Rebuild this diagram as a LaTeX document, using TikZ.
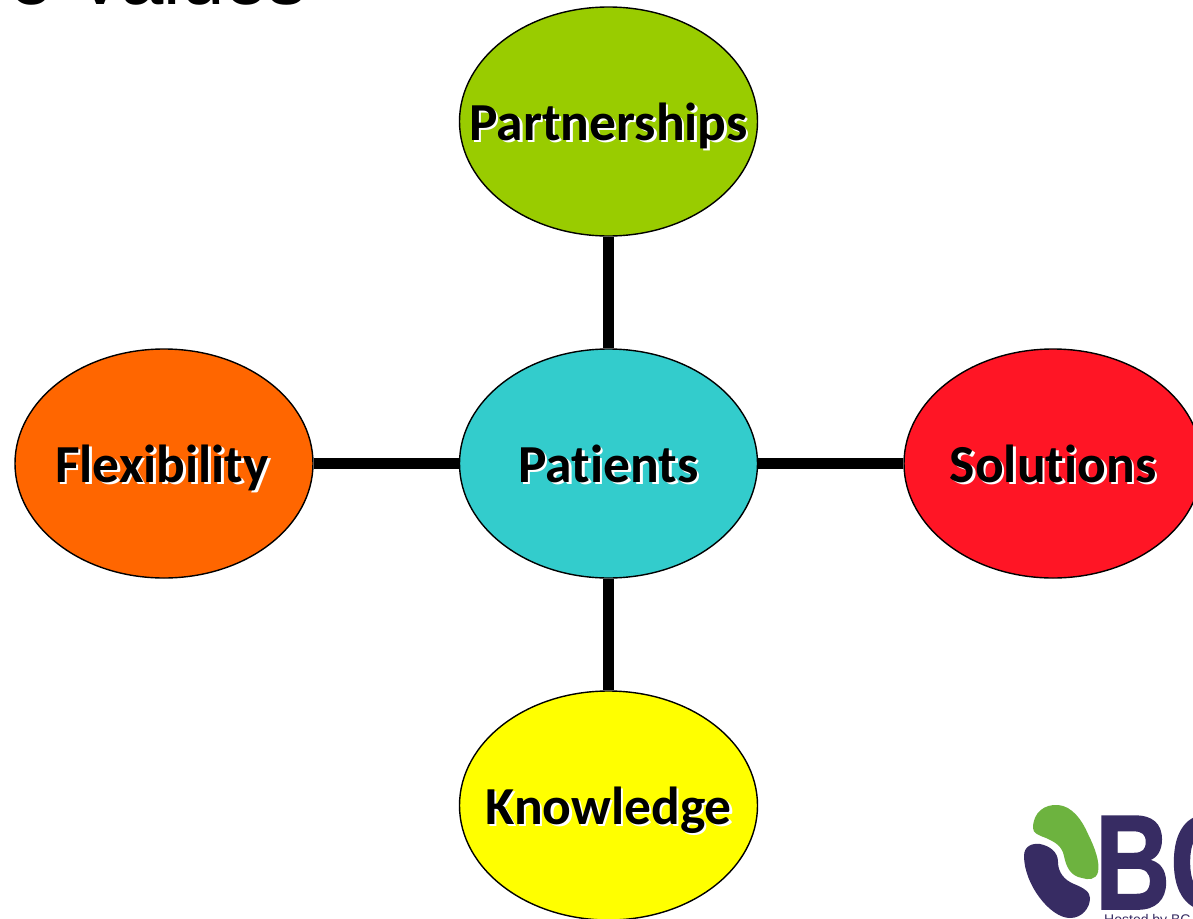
\documentclass[tikz,border=0pt]{standalone}
\usepackage{fontspec}
\setmainfont[RawFeature={-liga;-clig}]{Carlito}
\newfontfamily\titlefont{Liberation Sans}
\newfontfamily\logofont[UprightFont={* Bold},FakeBold=1.2]{Liberation Sans}
\usetikzlibrary{shapes.geometric}
\definecolor{cgreen}{HTML}{99CC00}
\definecolor{cteal}{HTML}{33CCCC}
\definecolor{corange}{HTML}{FF6600}
\definecolor{cred}{HTML}{FF1525}
\definecolor{cyell}{HTML}{FFFF00}
\definecolor{lgreen}{HTML}{6DB33F}
\definecolor{lpurple}{HTML}{372C63}
\newcommand\shtxt[1]{\leavevmode\rlap{\hspace{2.5pt}\raisebox{-2.5pt}{\color{white}#1}}#1}
\tikzset{
  bubble/.style={ellipse,draw=black,line width=1.4pt,minimum width=298pt,minimum height=229pt,inner sep=0pt},
  spoke/.style={line width=11pt,black},
  bubbletext/.style={anchor=base,inner sep=0pt,font=\fontsize{53.5}{53.5}\selectfont\bfseries}
}
\begin{document}
\begin{tikzpicture}[x=1pt,y=-1pt]
\useasboundingbox (0,0) rectangle (1193,918);
\clip (0,0) rectangle (1193,918);
\fill[white] (0,0) rectangle (1193,918);
\node[anchor=base west,inner sep=0pt,font=\titlefont\fontsize{78}{78}\selectfont] (title) at (9,5) {e Values};
\node[bubble,fill=cteal] (pat) at (608.5,463.5) {};
\node[bubble,fill=cgreen] (par) at (608.5,121.5) {};
\node[bubble,fill=corange] (fle) at (164,463.5) {};
\node[bubble,fill=cred] (sol) at (1053,463.5) {};
\node[bubble,fill=cyell] (kno) at (608.5,805.5) {};
\draw[spoke] (par) -- (pat);
\draw[spoke] (pat) -- (fle);
\draw[spoke] (pat) -- (sol);
\draw[spoke] (pat) -- (kno);
\node[bubbletext] (tpar) at ([yshift=-18.5pt]par.center) {\shtxt{Partnerships}};
\node[bubbletext] (tpat) at ([yshift=-18.5pt]pat.center) {\shtxt{Patients}};
\node[bubbletext] (tfle) at ([xshift=-2pt,yshift=-18.5pt]fle.center) {\shtxt{Flexibility}};
\node[bubbletext] (tsol) at ([yshift=-18.5pt]sol.center) {\shtxt{Solutions}};
\node[bubbletext] (tkno) at ([yshift=-18.5pt]kno.center) {\shtxt{Knowledge}};
% logo
\fill[lgreen] (1033,828) .. controls (1033,812) and (1045,804) .. (1058,805)
  .. controls (1072,806) and (1082,820) .. (1088,834)
  .. controls (1095,848) and (1100,862) .. (1098,872)
  .. controls (1096,880) and (1088,880) .. (1082,878)
  .. controls (1070,876) and (1066,866) .. (1064,856)
  .. controls (1062,846) and (1055,842) .. (1046,838)
  .. controls (1038,835) and (1033,833) .. (1033,828) -- cycle;
\fill[lpurple] (1024,856) .. controls (1024,846) and (1032,843) .. (1040,844)
  .. controls (1050,846) and (1058,852) .. (1058,862)
  .. controls (1058,872) and (1064,880) .. (1074,884)
  .. controls (1084,888) and (1090,892) .. (1090,898)
  .. controls (1090,908) and (1082,918) .. (1070,918)
  .. controls (1050,918) and (1024,884) .. (1024,856) -- cycle;
\node[anchor=base west,inner sep=0pt,text=lpurple,xscale=.77,font=\logofont\fontsize{135}{135}\selectfont] (logo) at (1095,909) {BC};
\node[anchor=base west,inner sep=0pt,text=lpurple,font=\titlefont\fontsize{14}{14}\selectfont] (host) at (1104,924) {Hosted by BC};
\end{tikzpicture}
\end{document}
